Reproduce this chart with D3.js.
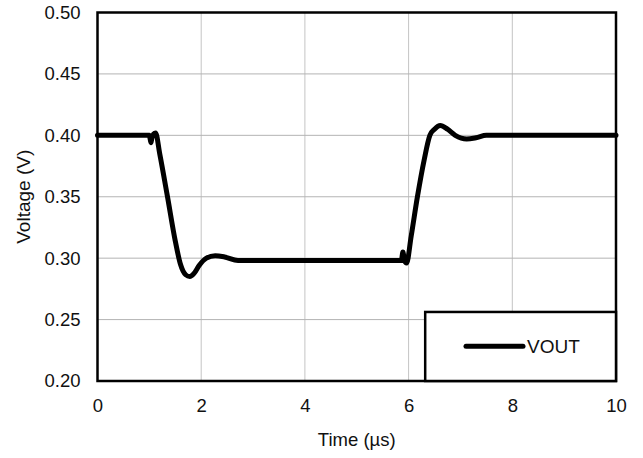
<!DOCTYPE html>
<html>
<head>
<meta charset="utf-8">
<script src="https://cdn.jsdelivr.net/npm/d3@7"></script>
<style>
  html, body { margin: 0; padding: 0; background: #fff; }
  svg { display: block; font-family: "Liberation Sans", Arial, sans-serif; }
</style>
</head>
<body>
<svg id="chart" width="643" height="458"></svg>
<script>
// VOUT transient response
const timeUs = [0, 0.5, 1.0, 1.03, 1.05, 1.08, 1.12, 1.2, 1.35, 1.5, 1.6, 1.7, 1.78, 1.86, 1.96, 2.1, 2.27, 2.45, 2.71, 3, 4, 5, 5.86, 5.89, 5.92, 5.96, 6.05, 6.17, 6.3, 6.41, 6.5, 6.61, 6.75, 6.9, 7.12, 7.3, 7.5, 8, 9, 10];
const vout   = [0.400, 0.400, 0.400, 0.394, 0.398, 0.401, 0.402, 0.385, 0.350, 0.314, 0.295, 0.2865, 0.285, 0.2875, 0.294, 0.300, 0.302, 0.301, 0.298, 0.298, 0.298, 0.298, 0.298, 0.305, 0.298, 0.296, 0.318, 0.350, 0.380, 0.400, 0.405, 0.408, 0.405, 0.400, 0.397, 0.398, 0.400, 0.400, 0.400, 0.400];
const xTicks = [0, 2, 4, 6, 8, 10];
const yTicks = [0.20, 0.25, 0.30, 0.35, 0.40, 0.45, 0.50];
const seriesName = "VOUT";

const svg = d3.select("#chart");
const L = 97.5, R = 616, T = 12.5, B = 381;
const FS = 18.5;

const x = d3.scaleLinear().domain([0, 10]).range([L, R]);
const y = d3.scaleLinear().domain([0.20, 0.50]).range([B, T]);

// grid
svg.append("g").selectAll("line").data(xTicks).join("line")
  .attr("x1", d => x(d)).attr("x2", d => x(d))
  .attr("y1", T).attr("y2", B)
  .attr("stroke", "#c4c4c4").attr("stroke-width", 1);
svg.append("g").selectAll("line").data(yTicks).join("line")
  .attr("x1", L).attr("x2", R)
  .attr("y1", d => y(d)).attr("y2", d => y(d))
  .attr("stroke", "#b4b4b4").attr("stroke-width", 1);

// axes (labels only)
const xAxis = svg.append("g").attr("transform", `translate(0,${B})`)
  .call(d3.axisBottom(x).tickValues(xTicks).tickFormat(d3.format("d")).tickSize(0).tickPadding(18));
const yAxis = svg.append("g").attr("transform", `translate(${L},0)`)
  .call(d3.axisLeft(y).tickValues(yTicks).tickFormat(d3.format(".2f")).tickSize(0).tickPadding(17));
[xAxis, yAxis].forEach(a => {
  a.select(".domain").remove();
  a.selectAll("text").attr("font-size", FS).attr("fill", "#111")
    .attr("font-family", "Liberation Sans, Arial, sans-serif");
});

// data line
const line = d3.line()
  .x((d, i) => x(timeUs[i]))
  .y(d => y(d))
  .curve(d3.curveMonotoneX);
svg.append("path").datum(vout)
  .attr("d", line)
  .attr("fill", "none").attr("stroke", "#000")
  .attr("stroke-width", 5).attr("stroke-linejoin", "round").attr("stroke-linecap", "round");

// frame
svg.append("rect").attr("x", L).attr("y", T).attr("width", R - L).attr("height", B - T)
  .attr("fill", "none").attr("stroke", "#000").attr("stroke-width", 2.5);

// legend
const lg = svg.append("g");
lg.append("rect").attr("x", x(6.32)).attr("y", y(0.2562)).attr("width", R - x(6.32)).attr("height", B - y(0.2562))
  .attr("fill", "#fff").attr("stroke", "#000").attr("stroke-width", 2.5);
const ly = y(0.2282);
lg.append("line").attr("x1", 466).attr("x2", 523).attr("y1", ly).attr("y2", ly)
  .attr("stroke", "#000").attr("stroke-width", 5).attr("stroke-linecap", "round");
lg.append("text").attr("x", 527).attr("y", ly).attr("dy", "0.36em")
  .attr("font-size", 19).attr("fill", "#111").text(seriesName);

// axis titles
svg.append("text").attr("x", (L + R) / 2).attr("y", 446).attr("text-anchor", "middle")
  .attr("font-size", FS).attr("fill", "#111").text("Time (µs)");
svg.append("text").attr("transform", `translate(30,${(T + B) / 2}) rotate(-90)`)
  .attr("text-anchor", "middle").attr("font-size", 19).attr("fill", "#111").text("Voltage (V)");
</script>
</body>
</html>
